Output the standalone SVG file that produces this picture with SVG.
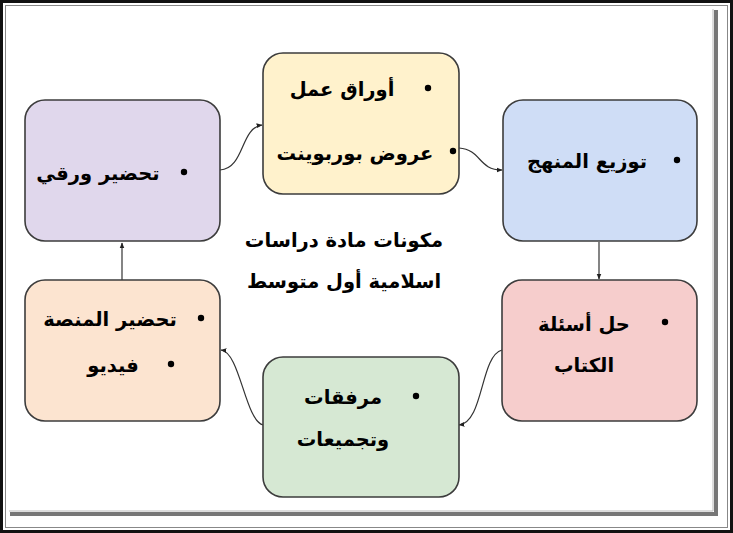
<svg xmlns="http://www.w3.org/2000/svg" width="733" height="533" viewBox="0 0 733 533">
<style>
.box{stroke:#3c3c3c;stroke-width:1.6}
.t{font-family:"DejaVu Sans","Noto Sans",sans-serif;font-size:19.5px;font-weight:bold;fill:#000;text-anchor:middle}
.c{fill:none;stroke:#333;stroke-width:1.2}
</style>
<defs>
<marker id="ah" viewBox="0 0 10 10" refX="9" refY="5" markerWidth="6" markerHeight="6" orient="auto" markerUnits="userSpaceOnUse">
<path d="M0,1 L10,5 L0,9 Z" fill="#222"/>
</marker>
</defs>
<rect x="0" y="0" width="733" height="533" fill="#fff"/>
<rect x="1.5" y="1.5" width="730" height="530" fill="none" stroke="#111" stroke-width="3"/>
<rect x="5.5" y="5.5" width="722" height="522" fill="none" stroke="#888" stroke-width="1"/>
<path d="M716,10 L716,514 L10,514" fill="none" stroke="#777" stroke-width="4"/>
<path d="M713,9 L713,511 L9,511" fill="none" stroke="#bbb" stroke-width="1"/>

<g id="connectors">
<path class="c" d="M220,170 C245,168 240,128 262,125" marker-end="url(#ah)"/>
<path class="c" d="M459,148 C482,150 478,170 502,170" marker-end="url(#ah)"/>
<path class="c" d="M599,242 L599,279" marker-end="url(#ah)"/>
<path class="c" d="M502,350 C480,356 484,422 459,425" marker-end="url(#ah)"/>
<path class="c" d="M263,425 C245,420 240,352 221,350" marker-end="url(#ah)"/>
<path class="c" d="M122,280 L122,243" marker-end="url(#ah)"/>
</g>

<g id="node-worksheets">
<rect class="box" x="263" y="53" width="196" height="141" rx="20" fill="#fff2cc"/>
<circle cx="428" cy="88" r="3.2" fill="#000"/>
<text class="t" x="342" y="96">أوراق عمل</text>
<circle cx="453" cy="151" r="3.2" fill="#000"/>
<text class="t" x="355" y="160">عروض بوربوينت</text>
</g>

<g id="node-paper">
<rect class="box" x="25" y="100" width="195" height="141" rx="20" fill="#e0d7ec"/>
<circle cx="184" cy="172" r="3.2" fill="#000"/>
<text class="t" x="98" y="180">تحضير ورقي</text>
</g>

<g id="node-curriculum">
<rect class="box" x="503" y="100" width="194" height="141" rx="20" fill="#cfddf6"/>
<circle cx="677" cy="160" r="3.2" fill="#000"/>
<text class="t" x="587" y="168">توزيع المنهج</text>
</g>

<g id="node-platform">
<rect class="box" x="25" y="280" width="195" height="141" rx="20" fill="#fce4d0"/>
<circle cx="201" cy="318" r="3.2" fill="#000"/>
<text class="t" x="110" y="326">تحضير المنصة</text>
<circle cx="171" cy="364" r="3.2" fill="#000"/>
<text class="t" x="113" y="372">فيديو</text>
</g>

<g id="node-questions">
<rect class="box" x="502" y="280" width="195" height="141" rx="20" fill="#f6cdcc"/>
<circle cx="665" cy="322" r="3.2" fill="#000"/>
<text class="t" x="584" y="331">حل أسئلة</text>
<text class="t" x="584" y="372">الكتاب</text>
</g>

<g id="node-attachments">
<rect class="box" x="263" y="357" width="196" height="140" rx="20" fill="#d6e8d3"/>
<circle cx="416" cy="396" r="3.2" fill="#000"/>
<text class="t" x="343" y="404">مرفقات</text>
<text class="t" x="343" y="446">وتجميعات</text>
</g>

<g id="title">
<text class="t" x="344" y="247">مكونات مادة دراسات</text>
<text class="t" x="344" y="288">اسلامية أول متوسط</text>
</g>
</svg>
